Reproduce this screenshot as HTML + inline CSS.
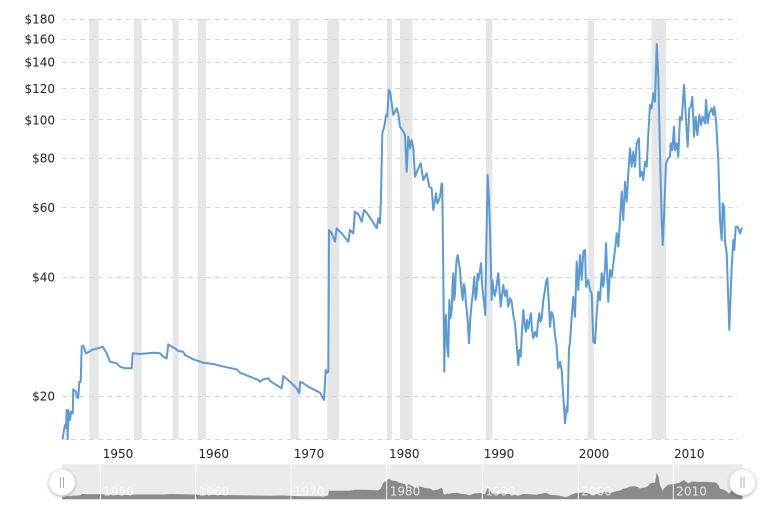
<!DOCTYPE html>
<html>
<head>
<meta charset="utf-8">
<style>
  html, body { margin:0; padding:0; background:#fff; }
  body { width:765px; height:514px; overflow:hidden; }
  svg { display:block; }
  text { font-family: "DejaVu Sans", "Liberation Sans", sans-serif; font-size:12px; }
</style>
</head>
<body>
<svg width="765" height="514" viewBox="0 0 765 514" xmlns="http://www.w3.org/2000/svg">
  <rect x="0" y="0" width="765" height="514" fill="#fff"/>

  <!-- recession bars -->
  <g fill="#e6e6e6">
    <rect x="89.3" y="19" width="9.4" height="420"/>
    <rect x="133.7" y="19" width="8" height="420"/>
    <rect x="172.7" y="19" width="6" height="420"/>
    <rect x="198" y="19" width="8" height="420"/>
    <rect x="290.3" y="19" width="8.4" height="420"/>
    <rect x="327.3" y="19" width="12" height="420"/>
    <rect x="387" y="19" width="5" height="420"/>
    <rect x="400" y="19" width="12.5" height="420"/>
    <rect x="486" y="19" width="6.3" height="420"/>
    <rect x="588" y="19" width="6" height="420"/>
    <rect x="651.5" y="19" width="14.5" height="420"/>
  </g>

  <!-- gridlines -->
  <g stroke="#d6d6d6" stroke-width="1" stroke-dasharray="5,4" fill="none">
    <line x1="62" y1="19.5" x2="738" y2="19.5"/>
    <line x1="62" y1="39.5" x2="738" y2="39.5"/>
    <line x1="62" y1="62.5" x2="738" y2="62.5"/>
    <line x1="62" y1="88.5" x2="738" y2="88.5"/>
    <line x1="62" y1="119.5" x2="738" y2="119.5"/>
    <line x1="62" y1="158.5" x2="738" y2="158.5"/>
    <line x1="62" y1="207.5" x2="738" y2="207.5"/>
    <line x1="62" y1="277.5" x2="738" y2="277.5"/>
    <line x1="62" y1="396.5" x2="738" y2="396.5"/>
    <line x1="62" y1="439.5" x2="738" y2="439.5"/>
  </g>

  <!-- y-axis labels -->
  <g fill="#222" text-anchor="end">
    <text x="55" y="23.5">$180</text>
    <text x="55" y="43.7">$160</text>
    <text x="55" y="66.6">$140</text>
    <text x="55" y="93.1">$120</text>
    <text x="55" y="124.3">$100</text>
    <text x="55" y="162.7">$80</text>
    <text x="55" y="212">$60</text>
    <text x="55" y="281.6">$40</text>
    <text x="55" y="400.5">$20</text>
  </g>

  <!-- x-axis labels -->
  <g fill="#222" text-anchor="middle">
    <text x="118" y="458">1950</text>
    <text x="213.7" y="458">1960</text>
    <text x="309" y="458">1970</text>
    <text x="404.3" y="458">1980</text>
    <text x="499" y="458">1990</text>
    <text x="594" y="458">2000</text>
    <text x="689.3" y="458">2010</text>
  </g>

  <!-- price series -->
  <polyline fill="none" stroke="#5b9bd5" stroke-width="2" stroke-linejoin="round" stroke-linecap="round" points="
62.7,438.3 64,430 65,425 66,428 66.7,410 67.7,439 68.3,410 70,420 71,411.7 72.7,413.3 73.3,389.3 74,390 76,391.7 76.7,396.7 78.3,398 79.3,381.7 80.7,382 81.7,346.7 83.3,345.7 86,353.3 88.3,352.3 91.7,350 95,349 98.3,348.3 102.7,346.7 106.7,353.3 110,361.7 116.7,363.3 120,366.7 125,368.3 131.7,368.3 132.7,353.3 140,354 153.3,352.7 160,353.3 163.3,356.7 166.7,358.3 168.3,344.3 171.7,346.7 175,348.3 178.3,351 183.3,351.7 185,355 193.3,359.3 203.3,362.7 213.3,364 226.7,367.3 236.7,369.3 240,372.7 250,376.7 258.3,380 260,381.7 263.3,379.3 268.3,378.3 270,381 281.7,388.3 283.3,376 290,381.7 296.7,388.3 299.3,393.3 300.3,381.7 303.3,383.3 308.3,386.7 320,392.7 324,400 325.7,370 326.5,373 328.3,371.7 329,230 331.7,233.3 335,241.7 336.7,228.3 341.7,233.3 348.3,241.7 350,230 353.3,233.3 355,211.7 358.3,214 361.7,221.7 364,210 366.7,212.7 371.7,220 376.7,228.3 378.3,218.3 380,223.3 381,196.7 382.3,133.3 384.3,126.7 386,115 387.3,116.7 388.7,90 390,91.7 391.7,103.3 393.3,115 396.7,108.3 398.3,113.3 400,126.7 403.3,131.7 405,135 406.7,171.7 408.3,136.7 410,148.3 411.7,140 413.3,148.3 415,176.7 418.3,168.3 420.7,163.3 423.3,180 426.7,173.3 429.3,186.7 431.7,188.3 433.3,210 436,193.3 437.3,203.3 438.3,201.7 440,196.7 441.7,183.3 442.3,185 444.3,371.7 445,330 446,315 447,345 448.3,356.7 449.3,300 450.5,318 451.7,310 452.5,285 453.3,273.3 454.2,300 455,293.3 456,268 456.7,260 457.7,255 458.8,262 460,270 461,285 462.7,300 463.8,284 465,288.3 465.8,302 466.7,310 467.8,322 469,343.3 470.3,318 471.7,303.3 473,292 474.3,276.7 475.5,300 476.7,293.3 477.5,274 478.3,280 479.7,272 481,263.3 482.2,285 483.3,296.7 484.3,305 485.3,315 486,260 487.7,175 489,200 490,230 490.8,262 491.7,300 492.5,280 493.3,288.3 494.7,296 496,290 497,282 498.3,273.3 499.5,290 500.7,306.7 502,295 503.3,285 505,296 506.7,290 507.5,300 508.3,306.7 510,298 511.7,301.7 513.3,315 515,323.3 516.7,345 518.3,365 519.5,350 520.7,356.7 522,330 523.3,310 524.7,325 526,331.7 527,320 528.3,328.3 529.7,320 531,313.3 532,330 533.3,338.3 535,332 536.7,336.7 538,322 539.3,313.3 540.5,322 541.7,318.3 543.3,300 545,290 546,282 547.3,278.3 548.7,300 550,326.7 551.7,312 553.3,316.7 555,335 556.7,346.7 557.5,360 558.3,368.3 560,362 561.7,370 562.5,385 563.3,396.7 564.2,410 565,423.3 566.7,406.7 567.5,412 569,348 570,343 571.7,316.7 573.3,296.7 575,316.7 576.7,261.7 578.3,290 580,255 581.7,280 583.3,251.7 585,250 586,286.7 588.3,280 590,290 591.7,293.3 593.3,341.7 595,343.3 596.7,313.3 598.3,291.7 600,300 601.7,273.3 603.3,286.7 605,268.3 606,243.3 608.3,301.7 610,270 611.7,276.7 615,250 616.7,233.3 618.3,246.7 620,220 621.7,191.7 623.3,220 625,181.7 626.7,201.7 628.3,173.3 630,148.3 631.7,166.7 633.3,151.7 635,166.7 636.7,143.3 639,138.3 640,176.7 641.7,171.7 643.3,180 645,161.7 646.7,166.7 648.3,135 650,105 651.7,108.3 653.3,93.3 655,101.7 656.7,44 658.3,76.7 660,153.3 661.7,220 662.7,245 664,216.7 666,163.3 668.3,158.3 670,156.7 670.7,143.3 672.3,150 674,126.7 675,150 676.7,143.3 678.3,156.7 680,116.7 681.7,120 684,85 686,120 687.7,146.7 689.3,108.3 691,106.7 692.3,96.7 694,136.7 695.7,116.7 697.3,135 699.3,115 701,125 702.7,116.7 705,123.3 706,100 707.7,123.3 709.3,113.3 711.7,108.3 713.3,115 714.3,106.7 716,120 718.3,160 720,220 721.7,240 722.7,203.3 724,206.7 725,241.7 726.7,253.3 729.3,330 731.7,266.7 733.3,240 734.3,250 735.7,226.7 737.7,226.7 740,233.3 741.7,228.3"/>

  <!-- navigator -->
  <rect x="62" y="464.3" width="680.5" height="35" fill="#ebebeb"/>
  <path fill="#8a8a8a" d="M62,499.3 L62,497.5 L64,497 L67,496 L70,496.5 L73,495.5 L76,495.8 L80,495.3 L82,494 L88,494.3 L100,494.2 L110,494.8 L130,495 L133,494.5 L165,494.5 L170,494 L200,494.8 L240,495.3 L270,495.8 L283,495.5 L300,496.2 L320,496.4 L324,496.8 L326,495.8 L328,495.8 L329,490.7 L336,490.8 L350,490.6 L355,489.8 L365,489.7 L378,490.4 L381,488.5 L383,483 L386,481 L389,478.8 L392,480.5 L396,481 L400,483 L405,484 L407,488 L408,484 L415,487.5 L420,486.5 L425,488 L430,488.5 L433,490.5 L438,489.5 L442,487.8 L444,495 L447,493.5 L449,493.8 L453,493 L457,492.7 L462,494 L466,494.2 L469,495.2 L474,493.5 L481,493 L485,494.4 L487.7,487.5 L490,490.6 L492,493.8 L500,493.8 L506,494 L510,494 L515,494.8 L518,495.8 L523,494 L530,494.3 L536,494.8 L540,494 L546,492.7 L550,494.8 L556,495.3 L560,495.8 L563,496.5 L565,497.1 L568,496.5 L571,494.8 L576,493 L580,492.6 L585,492.5 L590,493.7 L593,494.8 L597,494 L601,493 L606,491.8 L610,493.3 L616,491.3 L620,490.5 L623,488.7 L627,488 L630,486.5 L636,486.3 L640,488.5 L645,487.5 L648,486 L650,483.5 L655,482.5 L656.7,472.5 L658.5,477 L660,485 L662.7,491 L664,488.2 L668,484.8 L674,484 L680,482.5 L684,480 L688,483.5 L692,481.5 L700,482 L706,481.8 L712,482.2 L716,482.5 L718,484.5 L720,488.7 L723,489.5 L725,490.2 L729,493.5 L732,490.8 L736,490 L742.5,490.3 L742.5,499.3 Z"/>
  <g stroke="#ffffff" stroke-width="1" opacity="0.9">
    <line x1="100.5" y1="464.3" x2="100.5" y2="499.3"/>
    <line x1="195.5" y1="464.3" x2="195.5" y2="499.3"/>
    <line x1="291" y1="464.3" x2="291" y2="499.3"/>
    <line x1="386.7" y1="464.3" x2="386.7" y2="499.3"/>
    <line x1="482.3" y1="464.3" x2="482.3" y2="499.3"/>
    <line x1="578.3" y1="464.3" x2="578.3" y2="499.3"/>
    <line x1="673.3" y1="464.3" x2="673.3" y2="499.3"/>
  </g>
  <g fill="#ffffff" fill-opacity="0.8">
    <text x="103.3" y="495.7">1950</text>
    <text x="198.5" y="495.7">1960</text>
    <text x="294" y="495.7">1970</text>
    <text x="389.7" y="495.7">1980</text>
    <text x="485.3" y="495.7">1990</text>
    <text x="581.3" y="495.7">2000</text>
    <text x="676.3" y="495.7">2010</text>
  </g>

  <!-- handles -->
  <defs>
    <filter id="sh" x="-50%" y="-50%" width="200%" height="200%">
      <feGaussianBlur in="SourceAlpha" stdDeviation="1.5"/>
      <feOffset dx="0" dy="1" result="b"/>
      <feComponentTransfer><feFuncA type="linear" slope="0.3"/></feComponentTransfer>
      <feMerge><feMergeNode/><feMergeNode in="SourceGraphic"/></feMerge>
    </filter>
  </defs>
  <g filter="url(#sh)">
    <circle cx="62" cy="482.3" r="13" fill="#ffffff" stroke="#e4e4e4" stroke-width="0.8"/>
    <circle cx="742.5" cy="482.3" r="13" fill="#ffffff" stroke="#e4e4e4" stroke-width="0.8"/>
  </g>
  <g stroke="#aaaaaa" stroke-width="1">
    <line x1="60.5" y1="477" x2="60.5" y2="488"/>
    <line x1="63.5" y1="477" x2="63.5" y2="488"/>
    <line x1="741" y1="477" x2="741" y2="488"/>
    <line x1="744" y1="477" x2="744" y2="488"/>
  </g>
</svg>
</body>
</html>
